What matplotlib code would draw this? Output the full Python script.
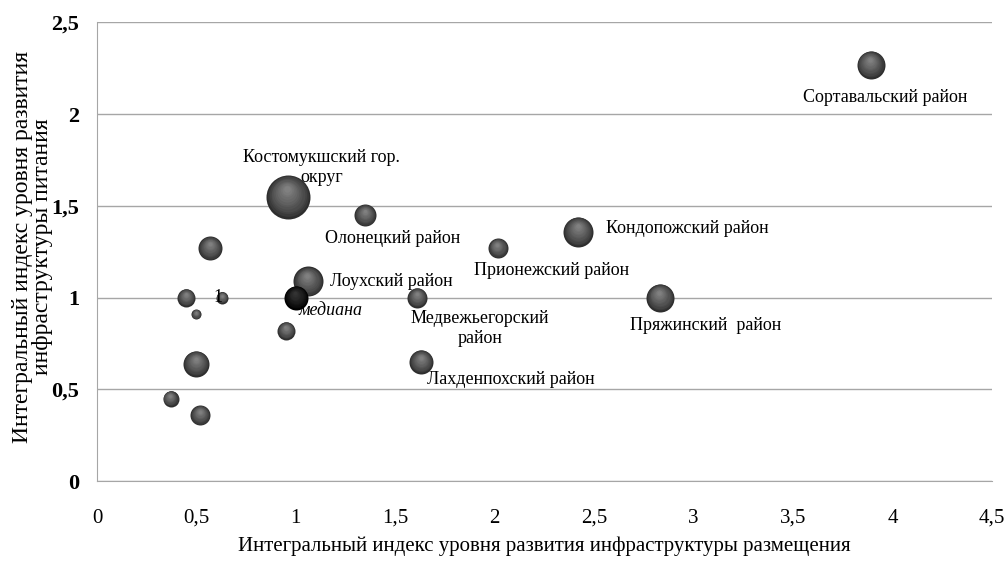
import numpy as np
import matplotlib.pyplot as plt
import matplotlib as mpl
from matplotlib.transforms import offset_copy

mpl.rcParams['font.family'] = ['Liberation Serif', 'DejaVu Serif']
mpl.rcParams['font.size'] = 13

# districts: accommodation index (x), catering index (y), bubble value
names = ['Сортавальский район', 'Костомукшский гор.\nокруг', 'Олонецкий район',
         'Кондопожский район', 'Прионежский район', 'Лоухский район',
         'Медвежьегорский\nрайон', 'Пряжинский  район', 'Лахденпохский район',
         '', '', '1', '', '', '', '', '']
x_acc = [3.89, 0.96, 1.35, 2.42, 2.015, 1.06, 1.61, 2.83, 1.63,
         0.57, 0.45, 0.63, 0.50, 0.95, 0.50, 0.37, 0.52]
y_food = [2.27, 1.55, 1.45, 1.36, 1.27, 1.09, 1.00, 1.00, 0.65,
          1.27, 1.00, 1.00, 0.91, 0.82, 0.64, 0.45, 0.36]
bubble = [196, 484, 121, 225, 100, 225, 100, 196, 144,
          144, 81, 36, 25, 81, 169, 64, 100]

median_x = [1.0]
median_y = [1.0]
median_b = [144]

# label offsets in pixels (dx, dy, ha)
lab_pos = [(15, -33, 'center'), (34, 29, 'center'), (27, -23, 'center'),
           (28, 3, 'left'), (-24, -22, 'left'), (22, 0, 'left'),
           (63, -31, 'center'), (46, -28, 'center'), (90, -18, 'center'),
           (0, 0, 'center'), (0, 0, 'center'), (-4, 0, 'center'),
           (0, 0, 'center'), (0, 0, 'center'), (0, 0, 'center'),
           (0, 0, 'center'), (0, 0, 'center')]

fig = plt.figure(figsize=(10.06, 5.61), dpi=100)
ax = fig.add_axes([0.0964, 0.1425, 0.8896, 0.8175])

ax.set_xlim(0, 4.5)
ax.set_ylim(0, 2.5)
ax.set_xticks(np.arange(0, 4.51, 0.5))
ax.set_yticks(np.arange(0, 2.51, 0.5))
ax.set_xticklabels(['0', '0,5', '1', '1,5', '2', '2,5', '3', '3,5', '4', '4,5'], fontsize=15)
ax.set_yticklabels(['0', '0,5', '1', '1,5', '2', '2,5'], fontsize=16, fontweight='bold')
ax.tick_params(length=0)
ax.tick_params(axis='x', pad=20)
ax.tick_params(axis='y', pad=13)
ax.grid(axis='y', color='#a6a6a6', lw=1)
ax.set_axisbelow(True)
for s in ['top', 'right']:
    ax.spines[s].set_visible(False)
for s in ['left', 'bottom']:
    ax.spines[s].set_color('#a6a6a6')

# shaded spheres: stacked circles, lighter toward an upper highlight
def spheres(xs, ys, bs, dark, light):
    n = 12
    r = np.sqrt(np.array(bs, float)) * 0.72  # radius in points
    for i in range(n):
        f = i / (n - 1)
        k = 1 - 0.85 * f
        c = np.array(dark) + (np.array(light) - np.array(dark)) * f ** 0.8
        for xi, yi, ri in zip(xs, ys, r):
            tr = offset_copy(ax.transData, fig=fig, x=-0.05 * ri * f, y=0.35 * ri * f, units='points')
            ax.scatter([xi], [yi], s=(ri * 2 * k) ** 2, color=c, lw=0,
                       transform=tr, zorder=3)

spheres(x_acc, y_food, bubble, (0.18, 0.18, 0.18), (0.50, 0.50, 0.50))
spheres(median_x, median_y, median_b, (0.0, 0.0, 0.0), (0.2, 0.2, 0.2))

for nm, xi, yi, (dx, dy, ha) in zip(names, x_acc, y_food, lab_pos):
    if nm:
        ax.annotate(nm, (xi, yi), xytext=(dx, dy), textcoords='offset pixels',
                    ha=ha, va='center', multialignment='center', fontsize=13, zorder=4)
ax.annotate('медиана', (median_x[0], median_y[0]), xytext=(35, -13),
            textcoords='offset pixels', ha='center', va='center',
            fontsize=13, style='italic', zorder=4)

ax.set_xlabel('Интегральный индекс уровня развития инфраструктуры размещения', fontsize=15, labelpad=6)
fig.text(0.032, 0.56, 'Интегральный индекс уровня развития\nинфраструктуры питания',
         rotation=90, ha='center', va='center', fontsize=17, linespacing=0.95)

plt.savefig('out.png', dpi=100)
